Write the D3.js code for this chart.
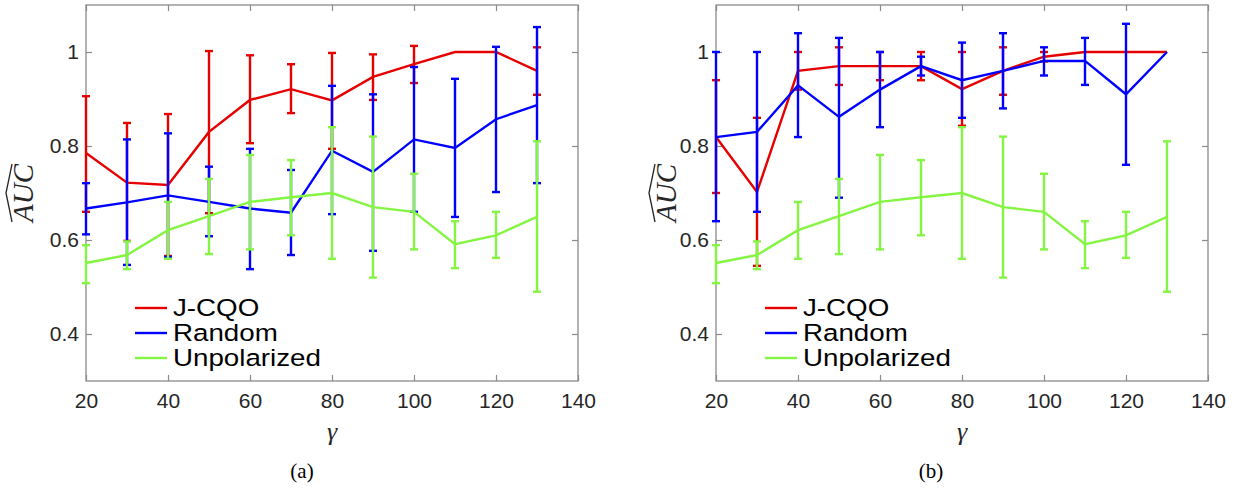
<!DOCTYPE html>
<html>
<head>
<meta charset="utf-8">
<script src="https://cdn.jsdelivr.net/npm/d3@7"></script>
<style>
  body { margin: 0; background: #fff; }
  svg { display: block; }
  .tick text { font-family: Arial, "Liberation Sans", sans-serif; font-size: 21px; fill: #262626; }
</style>
</head>
<body>
<svg></svg>
<script>
let gammas = [20, 30, 40, 50, 60, 70, 80, 90, 100, 110, 120, 130];
let xTicks = [20, 40, 60, 80, 100, 120, 140];
let yTicks = [0.4, 0.6, 0.8, 1];
let seriesNames = ['J-CQO', 'Random', 'Unpolarized'];

// panel (a)
let jcqoA   = [0.785, 0.722, 0.717, 0.83, 0.898, 0.921, 0.897, 0.947, 0.974, 1.0, 1.0, 0.96];
let jcqoAHi = [0.906, 0.849, 0.868, 1.002, 0.993, 0.974, 0.998, 0.995, 1.013, null, null, 1.01];
let jcqoALo = [0.66, 0.598, 0.566, 0.657, 0.806, 0.87, 0.794, 0.898, 0.934, null, null, 0.909];

let randA   = [0.667, 0.68, 0.695, 0.681, 0.667, 0.658, 0.79, 0.745, 0.814, 0.796, 0.857, 0.887];
let randAHi = [0.721, 0.814, 0.827, 0.756, 0.794, 0.749, 0.928, 0.91, 0.968, 0.943, 1.011, 1.053];
let randALo = [0.612, 0.547, 0.564, 0.608, 0.538, 0.568, 0.655, 0.577, 0.66, 0.649, 0.702, 0.721];

// unpolarized is the same in both panels
let unpol   = [0.551, 0.568, 0.621, 0.651, 0.681, 0.691, 0.70, 0.67, 0.66, 0.591, 0.61, 0.649];
let unpolHi = [0.589, 0.597, 0.681, 0.73, 0.781, 0.77, 0.84, 0.82, 0.741, 0.64, 0.66, 0.81];
let unpolLo = [0.508, 0.538, 0.56, 0.57, 0.58, 0.61, 0.56, 0.52, 0.58, 0.54, 0.562, 0.49];

// panel (b)
let jcqoB   = [0.819, 0.702, 0.96, 0.97, 0.97, 0.97, 0.921, 0.96, 0.99, 1.0, 1.0, 1.0];
let jcqoBHi = [0.94, 0.86, 1.0, 1.01, 1.0, 1.0, 1.0, 1.01, 1.0, null, null, null];
let jcqoBLo = [0.70, 0.545, 0.92, 0.93, 0.94, 0.94, 0.843, 0.909, 0.98, null, null, null];

let randB   = [0.819, 0.83, 0.929, 0.862, 0.92, 0.97, 0.94, 0.96, 0.981, 0.981, 0.91, 1.0];
let randBHi = [1.0, 1.0, 1.04, 1.03, 1.0, 0.99, 1.02, 1.04, 1.01, 1.03, 1.06, null];
let randBLo = [0.64, 0.66, 0.819, 0.69, 0.84, 0.95, 0.86, 0.88, 0.95, 0.93, 0.76, null];

let colors = ['#e60000', '#0000ff', '#84f542'];
let width = 1237, height = 489;

let svg = d3.select('svg')
            .attr('width', width)
            .attr('height', height);

let panels = [
  { x0: 86, x1: 578, label: '(a)', labelX: 302, ylabX: 33,
    series: [[jcqoA, jcqoALo, jcqoAHi], [randA, randALo, randAHi], [unpol, unpolLo, unpolHi]] },
  { x0: 716, x1: 1208, label: '(b)', labelX: 931, ylabX: 676,
    series: [[jcqoB, jcqoBLo, jcqoBHi], [randB, randBLo, randBHi], [unpol, unpolLo, unpolHi]] }
];

let plotTop = 5, plotBottom = 381;

panels.forEach(p => {
  let x = d3.scaleLinear().domain([20, 140]).range([p.x0, p.x1]);
  let y = d3.scaleLinear().domain([0.3, 1.1]).range([plotBottom, plotTop]);
  let g = svg.append('g');

  // box
  g.append('rect')
    .attr('x', p.x0).attr('y', plotTop)
    .attr('width', p.x1 - p.x0).attr('height', plotBottom - plotTop)
    .attr('fill', 'none').attr('stroke', '#8a8a8a').attr('stroke-width', 1.3);

  let axes = [
    [d3.axisBottom(x).tickValues(xTicks).tickPadding(12), `translate(0,${plotBottom})`, true],
    [d3.axisTop(x).tickValues(xTicks), `translate(0,${plotTop})`, false],
    [d3.axisLeft(y).tickValues(yTicks).tickFormat(d3.format('~g')).tickPadding(7), `translate(${p.x0},0)`, true],
    [d3.axisRight(y).tickValues(yTicks), `translate(${p.x1},0)`, false]
  ];
  axes.forEach(([ax, tr, showLabels]) => {
    ax.tickSizeInner(-6).tickSizeOuter(0);
    if (!showLabels) ax.tickFormat('');
    let a = g.append('g').attr('transform', tr).call(ax);
    a.select('.domain').remove();
    a.selectAll('.tick line').attr('stroke', '#8a8a8a').attr('stroke-width', 1.2);
  });

  // series: line then error bars, in order
  p.series.forEach(([mean, lo, hi], si) => {
    let sg = g.append('g').attr('stroke', colors[si]).attr('fill', 'none').attr('stroke-width', 2.4);
    let line = d3.line().x((d, i) => x(gammas[i])).y(d => y(d));
    sg.append('path').attr('d', line(mean));

    let bars = gammas.map((gm, i) => ({ g: gm, lo: lo[i], hi: hi[i] })).filter(d => d.lo !== null);
    sg.selectAll('line.bar').data(bars).enter().append('line')
      .attr('x1', d => x(d.g)).attr('x2', d => x(d.g))
      .attr('y1', d => y(d.lo)).attr('y2', d => y(d.hi));
    ['lo', 'hi'].forEach(k => {
      sg.selectAll('line.cap' + k).data(bars).enter().append('line')
        .attr('x1', d => x(d.g) - 4).attr('x2', d => x(d.g) + 4)
        .attr('y1', d => y(d[k])).attr('y2', d => y(d[k]));
    });
  });

  // legend
  let legend = g.append('g');
  seriesNames.forEach((name, i) => {
    let ly = 308 + i * 25;
    legend.append('line')
      .attr('x1', p.x0 + 49).attr('x2', p.x0 + 81)
      .attr('y1', ly).attr('y2', ly)
      .attr('stroke', colors[i]).attr('stroke-width', 2.4);
    legend.append('text')
      .attr('transform', `translate(${p.x0 + 87},${ly}) scale(1.18,1)`)
      .attr('dy', '0.36em')
      .attr('font-family', 'Arial, "Liberation Sans", sans-serif')
      .attr('font-size', 23.5)
      .attr('fill', '#000')
      .text(name);
  });

  // x label
  g.append('text')
    .attr('x', (p.x0 + p.x1) / 2).attr('y', 440)
    .attr('text-anchor', 'middle')
    .attr('font-family', '"Liberation Serif", "Times New Roman", serif')
    .attr('font-style', 'italic')
    .attr('font-size', 26)
    .attr('fill', '#262626')
    .text('γ');

  // y label with wide hat
  let yl = g.append('g').attr('transform', `translate(${p.ylabX},${(plotTop + plotBottom) / 2}) rotate(-90)`);
  yl.append('text')
    .attr('text-anchor', 'middle')
    .attr('font-family', '"Liberation Serif", "Times New Roman", serif')
    .attr('font-style', 'italic')
    .attr('font-size', 29)
    .attr('fill', '#262626')
    .text('AUC');
  yl.append('path')
    .attr('d', 'M-29,-21 Q-14,-24 0,-27 Q14,-24 29,-21')
    .attr('fill', 'none')
    .attr('stroke', '#262626')
    .attr('stroke-width', 1.3);

  // panel caption
  g.append('text')
    .attr('x', p.labelX).attr('y', 478)
    .attr('text-anchor', 'middle')
    .attr('font-family', '"Liberation Serif", "Times New Roman", serif')
    .attr('font-size', 21)
    .attr('fill', '#000')
    .text(p.label);
});
</script>
</body>
</html>
